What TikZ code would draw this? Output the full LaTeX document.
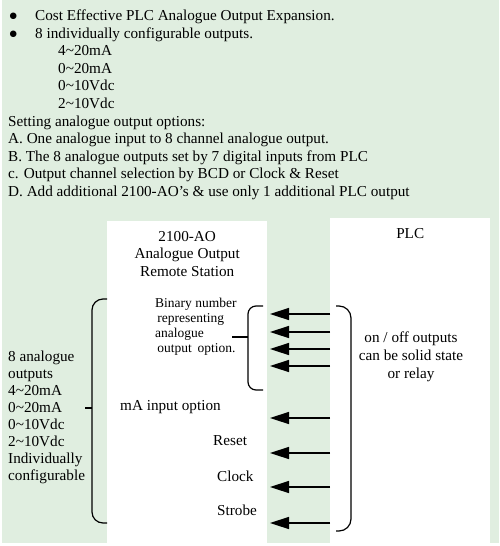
\documentclass[tikz,border=0pt]{standalone}
\usepackage{fontspec}
\setmainfont{Liberation Serif}
\newfontfamily\symfont{DejaVu Sans}
\usetikzlibrary{arrows.meta,positioning}
\definecolor{bggreen}{RGB}{224,238,224}
\newcommand{\bul}{\hspace*{1.5pt}\makebox[25.5pt][l]{\raisebox{1.5pt}{\symfont\fontsize{8.5}{8.5}\selectfont ●}}}

\begin{document}
\begin{tikzpicture}[x=1pt,y=-1pt,
  every node/.style={inner sep=0pt,font=\fontsize{15.2}{17.6}\selectfont},%
  box/.style={fill=white,draw=none,anchor=north west},%
  br/.style={line width=1.2pt,rounded corners=11pt},%
  tick/.style={line width=1.8pt},%
  ar/.style={line width=1.5pt,-{Triangle[length=19pt,width=12pt]}},%
  sm/.style={font=\fontsize{13.5}{15}\selectfont},%
  ]
  \useasboundingbox (0,0) rectangle (500,546);
  \fill [bggreen] (2,0) rectangle (499,543);
  % notes on top
  \node (head) [anchor=north west,align=left] at (8,9.5) {%
    \bul Cost Effective PLC Analogue Output Expansion.\\
    \bul 8 individually configurable outputs.\\
    \hspace*{50pt}4\textasciitilde20mA\\
    \hspace*{50pt}0\textasciitilde20mA\\
    \hspace*{50pt}0\textasciitilde10Vdc\\
    \hspace*{50pt}2\textasciitilde10Vdc\\
    Setting analogue output options:\\
    A. One analogue input to 8 channel analogue output.\\
    B. The 8 analogue outputs set by 7 digital inputs from PLC\\
    c. Output channel selection by BCD or Clock \& Reset\\
    D. Add additional 2100-AO’s \& use only 1 additional PLC output};
  % the two boxes
  \node (ao) [box,minimum width=160pt,minimum height=322pt] at (107,221) {};
  \node (plc) [box,minimum width=160pt,minimum height=325pt] at (330,218) {};
  \node (aot) [below=10pt of ao.north,align=center] {2100-AO\\Analogue Output\\Remote Station};
  \node (plct) [below=10pt of plc.north] {PLC};
  \node (bin) [sm,anchor=north west,align=left] at (155,298) {Binary number\\
    \,representing\\analogue\\\,output\, option.};
  \node (ma) [anchor=base west] at (120,410) {mA input option};
  \node (rst) [anchor=base west] at (213,445) {Reset};
  \node (clk) [anchor=base west] at (217,481) {Clock};
  \node (stb) [anchor=base west] at (217,515) {Strobe};
  \node (onoff) [align=center,anchor=north] at (411,332) {on / off outputs\\can be solid state\\or relay};
  \node (outs) [anchor=north west,align=left,font=\fontsize{15.2}{17.1}\selectfont] at (8,350.5) {8 analogue\\outputs\\
    4\textasciitilde20mA\\0\textasciitilde20mA\\0\textasciitilde10Vdc\\2\textasciitilde10Vdc\\
    Individually\\configurable};
  % braces
  \draw [br] (107,299) -- (92,299) -- (92,523) -- (107,523);
  \draw [tick] (outs.east |- 0,408) -- (92,408);
  \draw [br,rounded corners=8pt] (263,306) -- (248,306) -- (248,390) -- (263,390);
  \draw [tick] (232,337) -- (248,337);
  \draw [br,rounded corners=12pt] (336,306) -- (351,306) -- (351,531) -- (336,531);
  % PLC outputs
  \coordinate (b1) at (270,314);
  \coordinate (b2) at (270,332);
  \coordinate (b3) at (270,349);
  \coordinate (b4) at (270,366);
  \coordinate (i1) at (270,418);
  \coordinate (i2) at (270,453);
  \coordinate (i3) at (270,487);
  \coordinate (i4) at (270,523);
  \draw [ar] (plc.west |- b1) -- (b1);
  \draw [ar] (plc.west |- b2) -- (b2);
  \draw [ar] (plc.west |- b3) -- (b3);
  \draw [ar] (plc.west |- b4) -- (b4);
  \draw [ar] (plc.west |- i1) -- (i1);
  \draw [ar] (plc.west |- i2) -- (i2);
  \draw [ar] (plc.west |- i3) -- (i3);
  \draw [ar] (plc.west |- i4) -- (i4);
\end{tikzpicture}
\end{document}
